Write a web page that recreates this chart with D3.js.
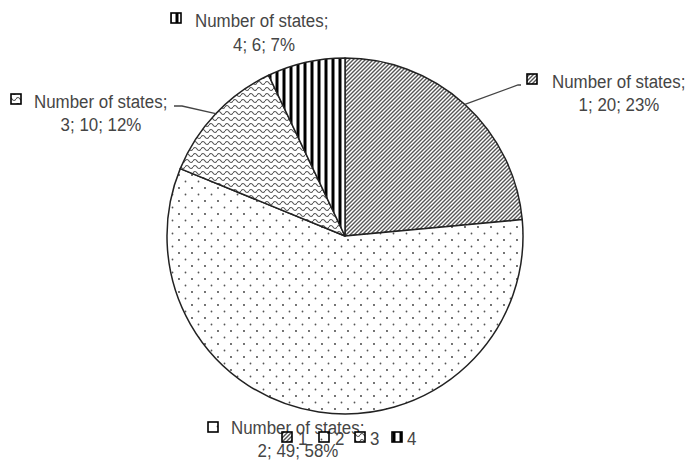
<!DOCTYPE html>
<html><head><meta charset="utf-8">
<script src="https://cdn.jsdelivr.net/npm/d3@7"></script>
<style>html,body{margin:0;padding:0;background:#fff;}svg{display:block;}</style>
</head><body>
<svg id="chart" width="689" height="460"></svg>
<script>
const categories = ["1", "2", "3", "4"];
const values = [20, 49, 10, 6];
const percents = ["23%", "58%", "12%", "7%"];
const seriesName = "Number of states";

const W = 689, H = 460;
const cx = 345, cy = 236, R = 178;
const svg = d3.select("#chart");
const defs = svg.append("defs");

// Patterns
const p1 = defs.append("pattern").attr("id", "pat1").attr("patternUnits", "userSpaceOnUse")
  .attr("width", 4).attr("height", 4);
p1.append("rect").attr("width", 4).attr("height", 4).attr("fill", "#fff");
p1.append("path").attr("d", "M-1,1 l2,-2 M0,4 l4,-4 M3,5 l2,-2").attr("stroke", "#555").attr("stroke-width", 1.4);

const p2 = defs.append("pattern").attr("id", "pat2").attr("patternUnits", "userSpaceOnUse")
  .attr("width", 13).attr("height", 13).attr("x", 2).attr("y", 3);
p2.append("rect").attr("width", 13).attr("height", 13).attr("fill", "#fff");
p2.append("circle").attr("cx", 1).attr("cy", 1).attr("r", 0.9).attr("fill", "#333");
p2.append("circle").attr("cx", 7.5).attr("cy", 7.5).attr("r", 0.9).attr("fill", "#555");

const p3 = defs.append("pattern").attr("id", "pat3").attr("patternUnits", "userSpaceOnUse")
  .attr("width", 8).attr("height", 6);
p3.append("rect").attr("width", 8).attr("height", 6).attr("fill", "#fff");
p3.append("path").attr("d", "M0,3 Q2,0 4,3 T8,3").attr("fill", "none").attr("stroke", "#555").attr("stroke-width", 1.2);

const p4 = defs.append("pattern").attr("id", "pat4").attr("patternUnits", "userSpaceOnUse")
  .attr("width", 7).attr("height", 7).attr("x", cx - 1.5);
p4.append("rect").attr("width", 7).attr("height", 7).attr("fill", "#fff");
p4.append("rect").attr("width", 3).attr("height", 7).attr("fill", "#000");

const fills = ["url(#pat1)", "url(#pat2)", "url(#pat3)", "url(#pat4)"];

const pie = d3.pie().sort(null).value(d => d.v).startAngle(0).endAngle(2 * Math.PI);
const data = categories.map((c, i) => ({ c, v: values[i], p: percents[i], i }));
const arcs = pie(data);
const arc = d3.arc().innerRadius(0).outerRadius(R);

const g = svg.append("g").attr("transform", `translate(${cx},${cy})`);
g.selectAll("path.slice").data(arcs).enter().append("path")
  .attr("class", "slice")
  .attr("d", arc)
  .attr("fill", (d, i) => fills[i])
  .attr("stroke", "#222").attr("stroke-width", 1.5).attr("stroke-linejoin", "round");

// Labels
const textColor = "#454545";
const fontFamily = "'Liberation Sans', Arial, sans-serif";
const fs = 19;
const sx = 0.89; // condensed look
function addText(x, y, str, anchor) {
  const t = svg.append("g").attr("transform", `translate(${x},${y}) scale(${sx},1)`)
    .append("text").attr("x", 0).attr("y", 0).attr("fill", textColor)
    .attr("font-family", fontFamily).attr("font-size", fs)
    .attr("text-anchor", anchor || "start").text(str);
  return t;
}
// [marker x, marker y, line1 start x, line1 baseline, line2 center x, line2 baseline]
const labelPos = [
  { mx: 527, my: 74, tx: 552, ty: 88, cx2: 619, ty2: 111 },
  { mx: 208, my: 422, tx: 231, ty: 434, cx2: 298, ty2: 457 },
  { mx: 11, my: 94, tx: 34, ty: 108, cx2: 101, ty2: 131 },
  { mx: 171, my: 13, tx: 195, ty: 27, cx2: 264, ty2: 51 }
];
const mk = 10;
labelPos.forEach((lp, i) => {
  svg.append("rect").attr("x", lp.mx).attr("y", lp.my).attr("width", mk).attr("height", mk)
    .attr("fill", fills[i]).attr("stroke", "#000").attr("stroke-width", 1.6);
  addText(lp.tx, lp.ty, seriesName + ";");
  addText(lp.cx2, lp.ty2, `${categories[i]}; ${values[i]}; ${percents[i]}`, "middle");
});

// Leader lines
const mid1 = (arcs[0].startAngle + arcs[0].endAngle) / 2;
const mid3 = (arcs[2].startAngle + arcs[2].endAngle) / 2;
const pt = a => [cx + R * Math.sin(a), cy - R * Math.cos(a)];
const e1 = pt(mid1), e3 = pt(mid3);
const line = d3.line();
svg.append("path").attr("d", line([e1, [518, 85], [521, 85]]))
  .attr("fill", "none").attr("stroke", "#444").attr("stroke-width", 1.3);
svg.append("path").attr("d", line([[174, 106], [182, 106], e3]))
  .attr("fill", "none").attr("stroke", "#444").attr("stroke-width", 1.3);

// Legend
const legX = [282, 319, 355, 392];
const legTX = [298, 335, 370, 407];
const leg = svg.append("g");
categories.forEach((c, i) => {
  leg.append("rect").attr("x", legX[i]).attr("y", 432).attr("width", mk).attr("height", mk)
    .attr("fill", fills[i]).attr("stroke", "#000").attr("stroke-width", 1.6);
  const t = leg.append("g").attr("transform", `translate(${legTX[i]},445) scale(${sx},1)`)
    .append("text").attr("fill", textColor)
    .attr("font-family", fontFamily).attr("font-size", fs).text(c);
});
</script>
</body></html>
